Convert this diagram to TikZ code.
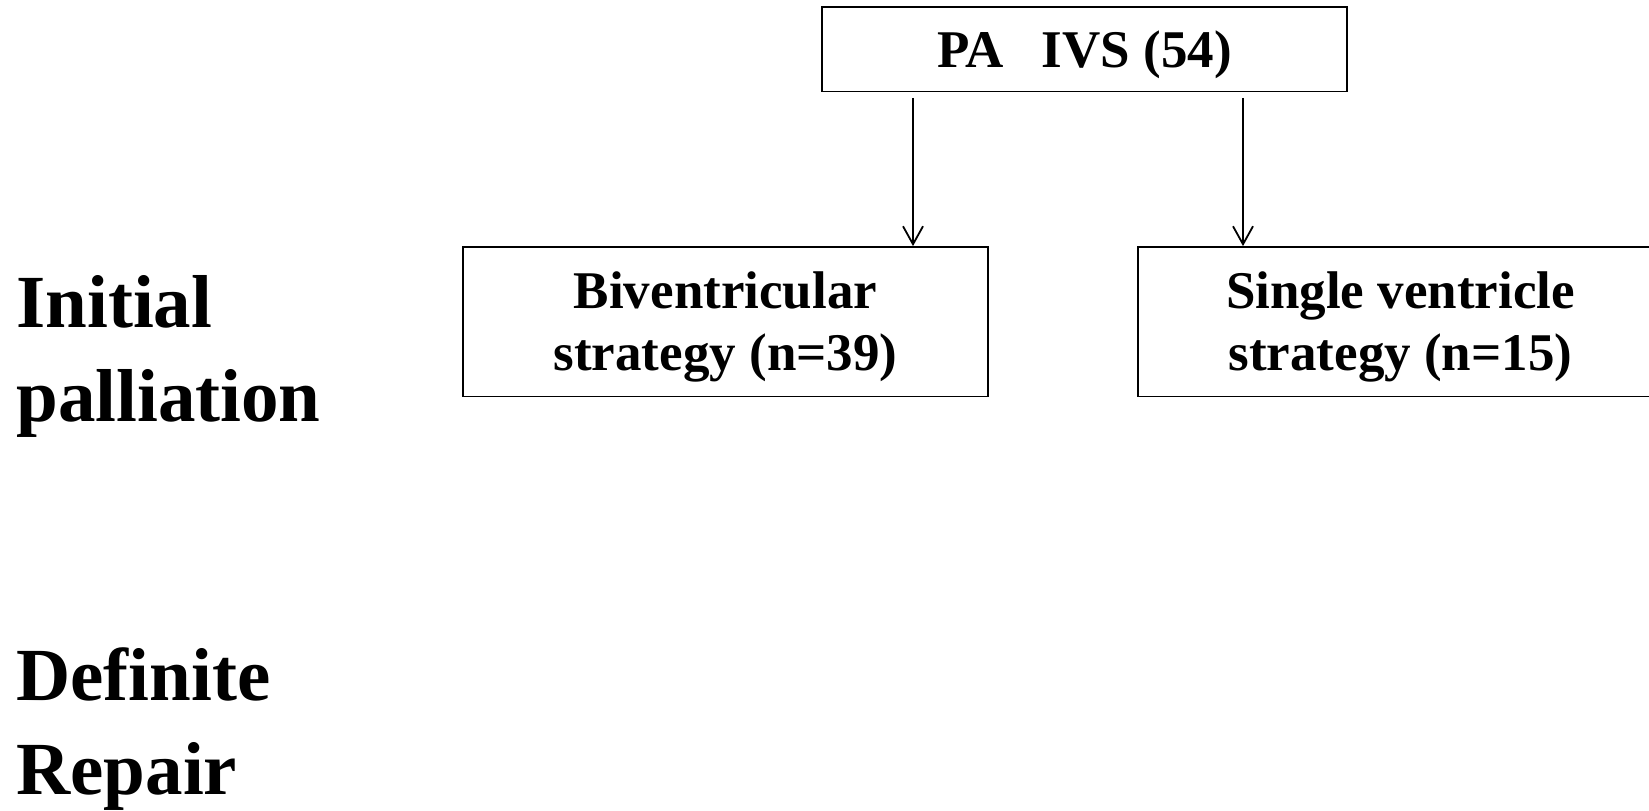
\documentclass[tikz,border=0pt]{standalone}
\usepackage{fontspec}
\setmainfont{Liberation Serif}
\usetikzlibrary{arrows.meta}
\begin{document}
\begin{tikzpicture}[x=0.5pt,y=-0.5pt,
  box/.style={draw,line width=0.9pt,minimum width=262.5pt,inner sep=0pt},
  boxtext/.style={inner sep=0pt,align=center,
    font=\fontsize{26.5}{31.5}\selectfont\bfseries},
  stage/.style={anchor=base west,inner sep=0pt,align=left,
    font=\fontsize{37.5}{47}\selectfont\bfseries},
  arr/.style={line width=0.9pt,-{Straight Barb[length=9pt,width=10pt]}}]
\useasboundingbox (0,0) rectangle (1649,810);

% study population and the two treatment strategies
\node[box,minimum height=42.25pt] (top) at (1084.5,49.25) {};
\node[box,minimum height=74.75pt] (bv) at (725.5,321.75) {};
\node[box,minimum height=74.75pt] (sv) at (1400.5,321.75) {};
\node[boxtext] (topt) at ([yshift=-2.6pt]top.center) {PA\hspace{0.72em}IVS (54)};
\node[boxtext] (bvt) at ([yshift=-2.6pt]bv.center) {Biventricular\\strategy (n=39)};
\node[boxtext] (svt) at ([yshift=-2.6pt]sv.center) {Single ventricle\\strategy (n=15)};

% stage labels on the left (anchored at the baseline of the last line)
\node[stage] (init) at (16,421) {Initial\\palliation};
\node[stage] (def) at (16,794) {Definite\\Repair};

% arrows from the population box to each strategy
\coordinate (s1) at (913,97.8);
\coordinate (s2) at (1243,97.8);
\draw[arr] (s1) -- (s1 |- bv.north);
\draw[arr] (s2) -- (s2 |- sv.north);
\end{tikzpicture}
\end{document}
